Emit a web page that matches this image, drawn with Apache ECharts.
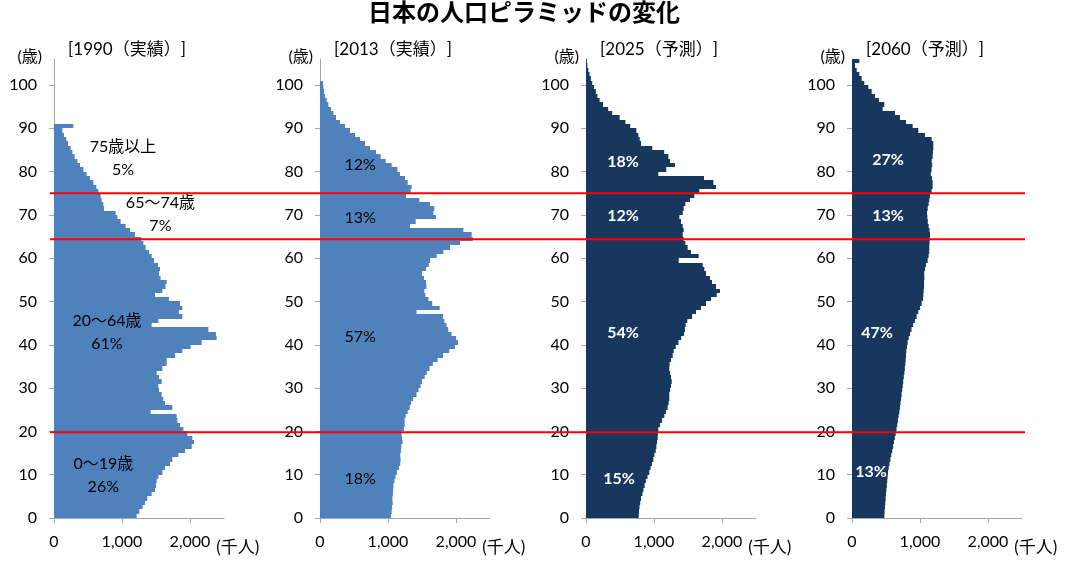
<!DOCTYPE html>
<html>
<head>
<meta charset="utf-8">
<script src="https://cdn.jsdelivr.net/npm/echarts@6/dist/echarts.min.js"></script>
<style>
  html, body { margin: 0; padding: 0; background: #fff; }
  #chart { width: 1065px; height: 562px; }
</style>
</head>
<body>
<div id="chart"></div>
<script>
// population by single year of age (thousands); last item is the open-ended top group
const pop1990 = [
  1216, 1255, 1304, 1338, 1372, 1436, 1485, 1500, 1510, 1534,
  1593, 1632, 1706, 1740, 1829, 1927, 2025, 2059, 2034, 1961,
  1902, 1853, 1814, 1804, 1422, 1740, 1632, 1608, 1583, 1544,
  1534, 1583, 1544, 1510, 1593, 1657, 1657, 1779, 1887, 2010,
  2172, 2392, 2382, 2270, 1436, 1534, 1887, 1838, 1887, 1853,
  1690, 1485, 1593, 1640, 1657, 1568, 1544, 1559, 1529, 1470,
  1436, 1397, 1348, 1314, 1284, 1191, 1118, 1054, 980, 931,
  907, 735, 725, 700, 686, 652, 622, 578, 529, 480,
  431, 382, 343, 304, 270, 245, 206, 181, 147, 123,
  284
]
const pop2013 = [
  1044, 1054, 1060, 1069, 1065, 1072, 1075, 1080, 1095, 1110,
  1130, 1160, 1180, 1185, 1180, 1190, 1195, 1215, 1205, 1200,
  1235, 1245, 1245, 1260, 1290, 1320, 1340, 1370, 1420, 1450,
  1480, 1500, 1540, 1570, 1610, 1660, 1730, 1810, 1900, 1985,
  2030, 2000, 1935, 1885, 1860, 1830, 1810, 1420, 1760, 1650,
  1595, 1550, 1535, 1565, 1560, 1530, 1500, 1560, 1600, 1620,
  1716, 1814, 1912, 2059, 2245, 2230, 2108, 1324, 1407, 1706,
  1667, 1681, 1618, 1461, 1265, 1333, 1348, 1290, 1250, 1176,
  1137, 1054, 966, 892, 824, 735, 662, 588, 515, 441,
  368, 294, 235, 196, 162, 123, 98, 74, 59, 49,
  45
]
const pop2025 = [
  775, 780, 787, 797, 809, 830, 845, 862, 880, 905,
  930, 950, 970, 990, 1005, 1025, 1035, 1045, 1054, 1058,
  1064, 1088, 1118, 1152, 1176, 1201, 1216, 1225, 1225, 1235,
  1250, 1260, 1250, 1235, 1225, 1230, 1250, 1275, 1290, 1320,
  1360, 1400, 1441, 1455, 1465, 1490, 1560, 1618, 1691, 1765,
  1838, 1922, 1970, 1912, 1853, 1824, 1765, 1740, 1716, 1363,
  1657, 1544, 1495, 1461, 1436, 1422, 1436, 1422, 1397, 1373,
  1422, 1436, 1461, 1529, 1593, 1667, 1912, 1873, 1735, 1064,
  1180, 1309, 1235, 1211, 1150, 975, 810, 790, 770, 740,
  650, 580, 495, 385, 325, 250, 200, 168, 145, 118,
  92, 72, 52, 35, 20, 10
]
const pop2060 = [
  476, 480, 485, 490, 495, 500, 506, 512, 518, 524,
  530, 540, 552, 565, 578, 592, 605, 618, 630, 642,
  655, 665, 676, 686, 696, 705, 714, 722, 730, 738,
  746, 754, 762, 770, 777, 784, 790, 795, 800, 808,
  818, 835, 853, 875, 900, 925, 951, 975, 1000, 1025,
  1045, 1049, 1054, 1059, 1059, 1064, 1062, 1074, 1088, 1113,
  1127, 1135, 1137, 1140, 1145, 1147, 1140, 1127, 1115, 1108,
  1103, 1113, 1127, 1137, 1147, 1170, 1186, 1186, 1175, 1160,
  1170, 1180, 1172, 1186, 1190, 1196, 1196, 1172, 1074, 975,
  892, 794, 706, 632, 451, 475, 397, 338, 289, 240,
  181, 142, 108, 69, 45, 108
]

const panelTitles = ['[1990（実績）]', '[2013（実績）]', '[2025（予測）]', '[2060（予測）]']
const ageTicks = [0, 10, 20, 30, 40, 50, 60, 70, 80, 90, 100]
const popTicks = [0, 1000, 2000]
const boundaryAges = [75, 64.4, 19.8]

// [x (thousand), age, text]
const notes1990 = [[1015, 83.0, '75歳以上\n5%'], [1565, 70.1, '65～74歳\n7%'], [779, 42.8, '20～64歳\n61%'], [725, 9.8, '0～19歳\n26%']]
const notes2013 = [[590, 81.5, '12%'], [590, 69.3, '13%'], [590, 41.8, '57%'], [590, 9.0, '18%']]
const notes2025 = [[544, 82.2, '18%'], [544, 69.7, '12%'], [544, 42.7, '54%'], [485, 9.0, '15%']]
const notes2060 = [[529, 82.7, '27%'], [529, 69.7, '13%'], [368, 42.7, '47%'], [279, 10.6, '13%']]

const pops = [pop1990, pop2013, pop2025, pop2060]
const notes = [notes1990, notes2013, notes2025, notes2060]
const colors = ['#4F81BD', '#4F81BD', '#17375E', '#17375E']
const noteColors = ['#000', '#000', '#fff', '#fff']
const noteWeights = ['normal', 'normal', 'bold', 'bold']

const FONT = 'Lato, "Noto Sans CJK JP", sans-serif'
const AXIS_GRAY = '#a6a6a6'
const panelLeft = [54, 320, 586, 852]
const panelWidth = 170
const gridTop = 59
const gridHeight = 459
const ageNamePad = [12, 7, 7, 7]

const chart = echarts.init(document.getElementById('chart'))

const grids = []
const xAxes = []
const yAxes = []
const series = []
const titles = [{
  text: '日本の人口ピラミッドの変化',
  left: 524,
  top: 0,
  textAlign: 'center',
  padding: 0,
  textStyle: { fontSize: 24, fontWeight: 'bold', color: '#000', fontFamily: '"Noto Sans CJK JP", sans-serif' }
}]

panelLeft.forEach((left, i) => {
  grids.push({ left: left, top: gridTop, width: panelWidth, height: gridHeight })
  titles.push({
    text: panelTitles[i],
    left: left + 73,
    top: 41,
    textAlign: 'center',
    padding: 0,
    textStyle: { fontSize: 17, fontWeight: 'normal', color: '#000', fontFamily: FONT }
  })
  xAxes.push({
    gridIndex: i,
    type: 'value',
    min: 0,
    max: 2500,
    name: '(千人)',
    nameLocation: 'end',
    nameGap: -13,
    nameTextStyle: { align: 'left', verticalAlign: 'top', padding: [21, 0, 0, 0], fontSize: 17, color: '#000', fontFamily: FONT },
    axisLine: { show: true, lineStyle: { color: AXIS_GRAY } },
    axisTick: { show: true, length: 5, customValues: popTicks, lineStyle: { color: AXIS_GRAY } },
    axisLabel: {
      customValues: popTicks,
      margin: 16,
      fontSize: 16,
      color: '#000',
      fontFamily: FONT,
      formatter: v => v.toLocaleString('en-US')
    },
    splitLine: { show: false }
  })
  yAxes.push({
    gridIndex: i,
    type: 'value',
    min: 0,
    max: 106,
    name: '(歳)',
    nameLocation: 'end',
    nameGap: 2,
    nameTextStyle: { align: 'right', verticalAlign: 'middle', padding: [0, ageNamePad[i], 0, 0], fontSize: 16, color: '#000', fontFamily: FONT },
    axisLine: { show: true, lineStyle: { color: AXIS_GRAY } },
    axisTick: { show: true, length: 5, customValues: ageTicks, lineStyle: { color: AXIS_GRAY } },
    axisLabel: { customValues: ageTicks, margin: 17, fontSize: 16, color: '#000', fontFamily: FONT },
    splitLine: { show: false }
  })

  // one bar per age, from age to age+1; edges snapped to whole pixels so no seams show
  series.push({
    type: 'custom',
    xAxisIndex: i,
    yAxisIndex: i,
    silent: true,
    z: 2,
    data: pops[i].map((v, age) => [v, age]),
    renderItem: (params, api) => {
      const age = api.value(1)
      const p0 = api.coord([0, age + 1])
      const p1 = api.coord([api.value(0), age])
      const top = Math.round(p0[1])
      const bottom = Math.round(p1[1])
      return {
        type: 'rect',
        shape: { x: p0[0], y: top, width: p1[0] - p0[0], height: bottom - top },
        style: { fill: colors[i] }
      }
    }
  })

  series.push({
    type: 'custom',
    xAxisIndex: i,
    yAxisIndex: i,
    silent: true,
    z: 5,
    data: notes[i].map(n => [n[0], n[1]]),
    renderItem: (params, api) => {
      const p = api.coord([api.value(0), api.value(1)])
      return {
        type: 'text',
        x: p[0],
        y: p[1],
        style: {
          text: notes[i][params.dataIndex][2],
          fill: noteColors[i],
          fontSize: 16,
          fontWeight: noteWeights[i],
          fontFamily: FONT,
          align: 'center',
          verticalAlign: 'middle',
          lineHeight: 23
        }
      }
    }
  })
})

// overlay grid for the red boundary lines spanning all panels
grids.push({ left: 50, top: gridTop, width: 975, height: gridHeight })
xAxes.push({ gridIndex: 4, type: 'value', min: 0, max: 1, show: false })
yAxes.push({ gridIndex: 4, type: 'value', min: 0, max: 106, show: false })
boundaryAges.forEach(a => {
  series.push({
    type: 'line',
    xAxisIndex: 4,
    yAxisIndex: 4,
    silent: true,
    z: 4,
    symbol: 'none',
    data: [[0, a], [1, a]],
    lineStyle: { color: '#FF0000', width: 2 }
  })
})

chart.setOption({
  animation: false,
  backgroundColor: '#fff',
  title: titles,
  grid: grids,
  xAxis: xAxes,
  yAxis: yAxes,
  series: series
})
</script>
</body>
</html>
